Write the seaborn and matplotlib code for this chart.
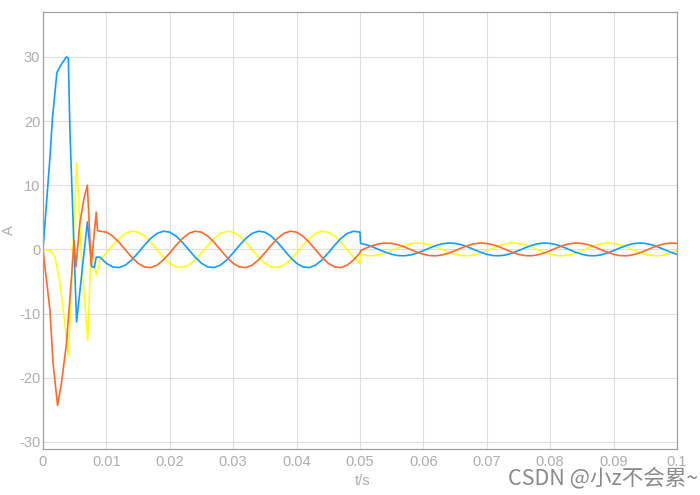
import numpy as np
import pandas as pd
import seaborn as sns
import matplotlib
matplotlib.use("Agg")
import matplotlib.pyplot as plt

# Three-phase current
# start-up transient (each phase has its own sample instants)
yellow_t0 = [0, 0.0011, 0.0019, 0.0027, 0.0035, 0.0040, 0.0045, 0.0049, 0.0053, 0.0061, 0.00705, 0.0076, 0.0084]
yellow_v0 = [0, -0.1, -1.2, -5.3, -12.0, -16.7, -5.3, 4.0, 13.5, -1.7, -14.2, 0.3, -4.0]

blue_t0 = [0, 0.0011, 0.0015, 0.0022, 0.0030, 0.0037, 0.0040, 0.00425, 0.0053, 0.0070, 0.0077, 0.0081, 0.0084]
blue_v0 = [0, 14.3, 20.5, 27.6, 29.0, 30.0, 29.8, 18.5, -11.3, 4.3, -2.7, -2.8, -1.2]

orange_t0 = [0, 0.0011, 0.0016, 0.0023, 0.0029, 0.0037, 0.0045, 0.0049, 0.0052, 0.0058, 0.0064, 0.0070, 0.0076, 0.0084, 0.0086]
orange_v0 = [0, -9.5, -17.8, -24.3, -20.9, -14.7, -4.3, 1.4, -2.7, 4.0, 7.6, 10.0, -2.5, 5.8, 2.95]

# steady state 0.009 .. 0.050 s, 1 ms steps
t_mid = np.round(np.arange(9, 51) * 1e-3, 4)
yellow_v1 = [-1.63, -0.53, 0.65, 1.72, 2.50, 2.84,
             2.69, 2.08, 1.10, -0.06, -1.21, -2.16, -2.73, -2.83, -2.44, -1.63, -0.53, 0.65, 1.72, 2.50, 2.84,
             2.69, 2.08, 1.10, -0.06, -1.21, -2.16, -2.73, -2.83, -2.44, -1.63, -0.53, 0.65, 1.72, 2.50, 2.84,
             2.69, 2.08, 1.10, -0.06, -1.21, -2.16]
blue_v1 = [-1.21, -2.16, -2.73, -2.83, -2.44, -1.63,
           -0.53, 0.65, 1.72, 2.50, 2.84, 2.69, 2.08, 1.10, -0.06, -1.21, -2.16, -2.73, -2.83, -2.44, -1.63,
           -0.53, 0.65, 1.72, 2.50, 2.84, 2.69, 2.08, 1.10, -0.06, -1.21, -2.16, -2.73, -2.83, -2.44, -1.63,
           -0.53, 0.65, 1.72, 2.50, 2.84, 2.69]
orange_v1 = [2.84,
             2.69, 2.08, 1.10, -0.06, -1.21, -2.16, -2.73, -2.83, -2.44, -1.63, -0.53, 0.65, 1.72, 2.50, 2.84,
             2.69, 2.08, 1.10, -0.06, -1.21, -2.16, -2.73, -2.83, -2.44, -1.63, -0.53, 0.65, 1.72, 2.50, 2.84,
             2.69, 2.08, 1.10, -0.06, -1.21, -2.16, -2.73, -2.83, -2.44, -1.63, -0.53]

# after the step at 0.05 s
t_late = np.concatenate([[0.0501], np.round(np.arange(51, 101) * 1e-3, 4)])
yellow_v2 = [-0.76,
             -0.96, -0.99, -0.86, -0.57, -0.19, 0.23, 0.60, 0.88, 1.00,
             0.94, 0.73, 0.39, -0.02, -0.43, -0.76, -0.96, -0.99, -0.86, -0.57, -0.19, 0.23, 0.60, 0.88, 1.00,
             0.94, 0.73, 0.39, -0.02, -0.43, -0.76, -0.96, -0.99, -0.86, -0.57, -0.19, 0.23, 0.60, 0.88, 1.00,
             0.94, 0.73, 0.39, -0.02, -0.43, -0.76, -0.96, -0.99, -0.86, -0.57, -0.19]
blue_v2 = [0.94,
           0.73, 0.39, -0.02, -0.43, -0.76, -0.96, -0.99, -0.86, -0.57, -0.19, 0.23, 0.60, 0.88, 1.00,
           0.94, 0.73, 0.39, -0.02, -0.43, -0.76, -0.96, -0.99, -0.86, -0.57, -0.19, 0.23, 0.60, 0.88, 1.00,
           0.94, 0.73, 0.39, -0.02, -0.43, -0.76, -0.96, -0.99, -0.86, -0.57, -0.19, 0.23, 0.60, 0.88, 1.00,
           0.94, 0.73, 0.39, -0.02, -0.43, -0.76]
orange_v2 = [-0.19,
             0.23, 0.60, 0.88, 1.00,
             0.94, 0.73, 0.39, -0.02, -0.43, -0.76, -0.96, -0.99, -0.86, -0.57, -0.19, 0.23, 0.60, 0.88, 1.00,
             0.94, 0.73, 0.39, -0.02, -0.43, -0.76, -0.96, -0.99, -0.86, -0.57, -0.19, 0.23, 0.60, 0.88, 1.00,
             0.94, 0.73, 0.39, -0.02, -0.43, -0.76, -0.96, -0.99, -0.86, -0.57, -0.19, 0.23, 0.60, 0.88, 1.00,
             0.94]

x_ticks = [0, 0.01, 0.02, 0.03, 0.04, 0.05, 0.06, 0.07, 0.08, 0.09, 0.1]
x_labels = ["0", "0.01", "0.02", "0.03", "0.04", "0.05", "0.06", "0.07", "0.08", "0.09", "0.1"]
y_ticks = [-30, -20, -10, 0, 10, 20, 30]

phases = [
    ("a", "#ffff11", yellow_t0, yellow_v0, yellow_v1, yellow_v2),
    ("b", "#119eff", blue_t0, blue_v0, blue_v1, blue_v2),
    ("c", "#ff6929", orange_t0, orange_v0, orange_v1, orange_v2),
]

frames = []
for name, _, t0, v0, v1, v2 in phases:
    t = np.concatenate([t0, t_mid, t_late])
    v = np.concatenate([v0, v1, v2])
    frames.append(pd.DataFrame({"t": t, "i": v, "phase": name}))
df = pd.concat(frames, ignore_index=True)

sns.set_theme(style="whitegrid")
plt.rcParams["font.family"] = ["Liberation Sans Narrow", "Liberation Sans", "DejaVu Sans"]
plt.rcParams["axes.unicode_minus"] = False

fig = plt.figure(figsize=(7, 4.95), dpi=100)
ax = fig.add_axes([0.0614, 0.0929, 0.9057, 0.8829])

for name, color, *_ in phases:
    sns.lineplot(data=df[df["phase"] == name], x="t", y="i", color=color,
                 linewidth=1.2, estimator=None, sort=False, ax=ax)

ax.set_xlim(0, 0.1)
ax.set_ylim(-31.1, 37)
ax.set_xticks(x_ticks)
ax.set_xticklabels(x_labels)
ax.set_yticks(y_ticks)

gray = "#adadad"
ax.set_facecolor("white")
ax.grid(True, color="#dedede", linewidth=0.8)
for sp in ax.spines.values():
    sp.set_color("#a0a0a0")
    sp.set_linewidth(0.9)
ax.tick_params(axis="both", colors=gray, labelsize=10.5, direction="in",
               length=4, width=0.8)
ax.tick_params(axis="x", pad=4)
ax.tick_params(axis="y", pad=2)
ax.set_xlabel("t/s", color=gray, fontsize=10.5)
ax.set_ylabel("A", color=gray, fontsize=10.5)
ax.xaxis.set_label_coords(0.504, -0.057)
ax.yaxis.set_label_coords(-0.043, 0.5)

fig.text(0.997, 0.012, "CSDN @小z不会累~", ha="right", va="bottom", fontsize=15.5,
         color="#8a8a8a", family=["Noto Sans CJK SC", "DejaVu Sans"])

fig.savefig("out.png", dpi=100)
